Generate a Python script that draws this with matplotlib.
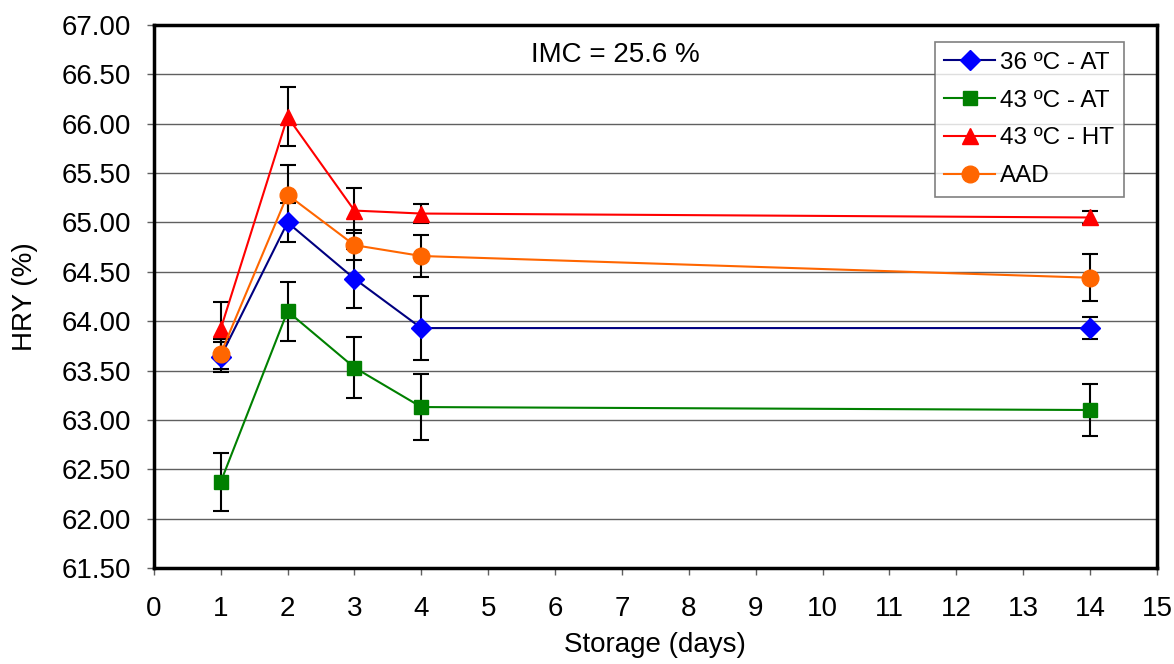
import matplotlib
matplotlib.use("Agg")
import matplotlib.pyplot as plt

plt.rcParams['font.family'] = ['Liberation Sans', 'DejaVu Sans']

days = [1, 2, 3, 4, 14]
labels = ["36 ºC - AT", "43 ºC - AT", "43 ºC - HT", "AAD"]
hry_36_at = [63.64, 65.00, 64.43, 63.93, 63.93]
err_36_at = [0.15, 0.20, 0.30, 0.32, 0.11]
hry_43_at = [62.37, 64.10, 63.53, 63.13, 63.10]
err_43_at = [0.29, 0.30, 0.31, 0.33, 0.26]
hry_43_ht = [63.92, 66.07, 65.12, 65.09, 65.05]
err_43_ht = [0.27, 0.30, 0.23, 0.10, 0.07]
hry_aad = [63.67, 65.28, 64.77, 64.66, 64.44]
err_aad = [0.15, 0.30, 0.15, 0.21, 0.24]

series = [
    (hry_36_at, err_36_at, "#000080", "#0000ff", "D", 10),
    (hry_43_at, err_43_at, "#008000", "#008000", "s", 10),
    (hry_43_ht, err_43_ht, "#ff0000", "#ff0000", "^", 12),
    (hry_aad, err_aad, "#ff6600", "#ff6600", "o", 12),
]

fig = plt.figure(figsize=(11.74, 6.64), dpi=100)
ax = fig.add_axes([0.131, 0.1446, 0.8545, 0.8178])

for (vals, errs, lc, mc, mk, ms), lab in zip(series, labels):
    ax.errorbar(days, vals, yerr=errs, fmt='none', ecolor='black',
                elinewidth=1.5, capsize=5.5, capthick=1.5, zorder=2)
    ax.plot(days, vals, color=lc, lw=1.5, marker=mk, markersize=ms,
            markerfacecolor=mc, markeredgecolor=mc, label=lab, zorder=3)

ax.set_xlim(0, 15)
ax.set_ylim(61.5, 67.0)
ax.set_xticks(range(0, 16))
yt = [61.5 + 0.5 * i for i in range(12)]
ax.set_yticks(yt)
ax.set_yticklabels([f"{v:.2f}" for v in yt])
ax.yaxis.grid(True, color='#606060', lw=1)
ax.set_axisbelow(True)
for s in ax.spines.values():
    s.set_linewidth(2.5)
    s.set_color('black')
ax.tick_params(axis='both', labelsize=20, length=5, width=1, color='#606060')
ax.tick_params(axis='y', pad=11.5)
ax.tick_params(axis='x', pad=15)
ax.set_xlabel("Storage (days)", fontsize=20)
ax.set_ylabel("HRY (%)", fontsize=20)
ax.xaxis.set_label_coords(0.5, -0.142)
ax.xaxis.label.set_va('center')
ax.yaxis.set_label_coords(-0.128, 0.5)
ax.yaxis.label.set_va('center')

ax.text(615 / 1174, 1 - 55 / 664, "IMC = 25.6 %", transform=fig.transFigure,
        ha='center', va='center', fontsize=20)

leg = ax.legend(loc='upper right', bbox_to_anchor=(0.967, 0.9687),
                fontsize=17.5, frameon=True, fancybox=False, edgecolor='#606060',
                handlelength=2.1, handletextpad=0.2, borderpad=0.4, labelspacing=0.65,
                borderaxespad=0)
leg.get_frame().set_linewidth(1.2)

fig.savefig("out.png", dpi=100)
